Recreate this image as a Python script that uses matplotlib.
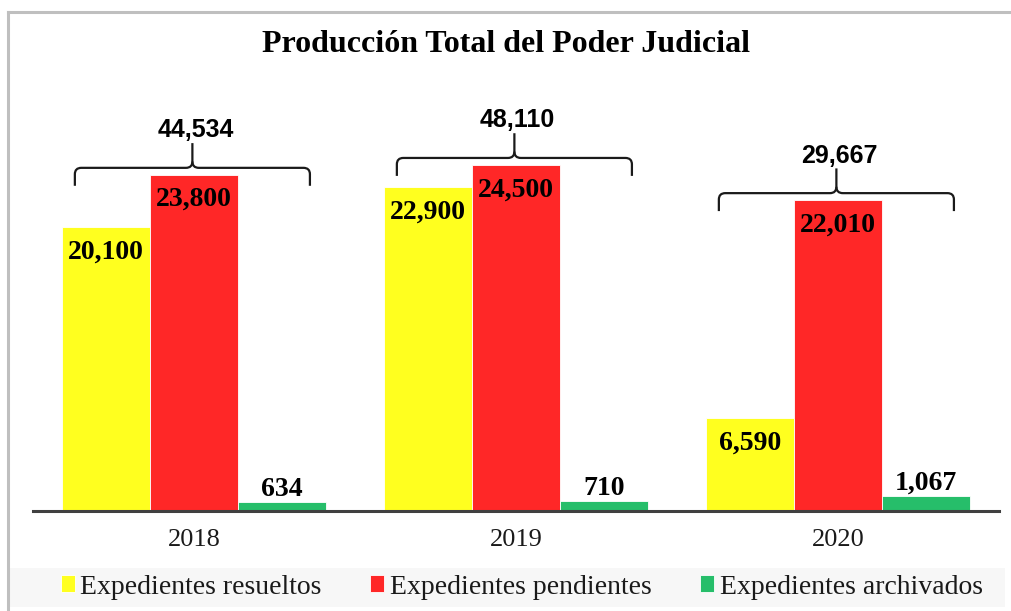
import matplotlib
matplotlib.use("Agg")
import matplotlib.pyplot as plt
from matplotlib.path import Path
from matplotlib.patches import PathPatch, Rectangle
import numpy as np

categories = ["2018", "2019", "2020"]
series_names = ["Expedientes resueltos", "Expedientes pendientes", "Expedientes archivados"]
resueltos = [20100, 22900, 6590]
pendientes = [23800, 24500, 22010]
archivados = [634, 710, 1067]
colors = ["#FFFF1F", "#FF2727", "#26BE6A"]
title = "Producción Total del Poder Judicial"

W, H = 1011, 611
fig = plt.figure(figsize=(W / 100, H / 100), dpi=100)
fig.patch.set_facecolor("white")

# outer border (top and left)
fig.add_artist(plt.Line2D([8 / W, 1.0], [1 - 12 / H, 1 - 12 / H], color="#BFBFBF", lw=2.2,
                          transform=fig.transFigure))
fig.add_artist(plt.Line2D([8 / W, 8 / W], [0, 1 - 12 / H], color="#BFBFBF", lw=2.2,
                          transform=fig.transFigure))
# legend background band
fig.add_artist(Rectangle((10 / W, 1 - 607 / H), (1005 - 10) / W, (607 - 568) / H,
                         facecolor="#F7F7F7", edgecolor="none", transform=fig.transFigure, zorder=0))

ax_left, ax_right, ax_bottom, ax_top = 33, 999, 511, 87
ax = fig.add_axes([ax_left / W, 1 - ax_bottom / H, (ax_right - ax_left) / W, (ax_bottom - ax_top) / H])
ax.set_xlim(-0.5, 2.5)
ax.set_ylim(0, 30000)
ax.patch.set_alpha(0)

x = np.arange(len(categories))
bw = 0.274
data = [resueltos, pendientes, archivados]
offsets = [-bw, 0, bw]
bars = []
for vals, off, col, name in zip(data, offsets, colors, series_names):
    b = ax.bar(x + off, vals, bw, color=col, edgecolor="white", linewidth=0.6, label=name, zorder=2)
    bars.append(b)

serif_bold = dict(family="Liberation Serif", weight="bold", size=20)
for i in range(2):
    for rect, v in zip(bars[i], data[i]):
        ax.annotate(f"{v:,}", (rect.get_x() + rect.get_width() / 2, rect.get_height()),
                    xytext=(0, -18), textcoords="offset points", ha="center", va="center",
                    color="black", zorder=3, **serif_bold)
for rect, v in zip(bars[2], data[2]):
    ax.annotate(f"{v:,}", (rect.get_x() + rect.get_width() / 2, rect.get_height()),
                xytext=(0, 0), textcoords="offset points", ha="center", va="bottom",
                color="black", zorder=3, **serif_bold)

# brackets with totals
half = 0.365
rx, ry = 0.02, 450
leg, peak = 1270, 1750
for i in range(len(categories)):
    total = resueltos[i] + pendientes[i] + archivados[i]
    top = max(resueltos[i], pendientes[i], archivados[i])
    yh = top + 480
    xc = x[i] - 0.005
    xl, xr = xc - half, xc + half
    verts = [(xl, yh - leg), (xl, yh - ry), (xl, yh), (xl + rx, yh), (xc - rx, yh),
             (xc, yh), (xc, yh + ry), (xc, yh + peak)]
    codes = [Path.MOVETO, Path.LINETO, Path.CURVE3, Path.CURVE3, Path.LINETO,
             Path.CURVE3, Path.CURVE3, Path.LINETO]
    verts2 = [(xr, yh - leg), (xr, yh - ry), (xr, yh), (xr - rx, yh), (xc + rx, yh),
              (xc, yh), (xc, yh + ry)]
    codes2 = [Path.MOVETO, Path.LINETO, Path.CURVE3, Path.CURVE3, Path.LINETO,
              Path.CURVE3, Path.CURVE3]
    for v, c in ((verts, codes), (verts2, codes2)):
        ax.add_patch(PathPatch(Path(v, c), facecolor="none", edgecolor="#1a1a1a", lw=1.6,
                               capstyle="butt", joinstyle="round", zorder=3, clip_on=False))
    ax.text(xc + 0.01, yh + peak + 60, f"{total:,}", ha="center", va="bottom",
            family="Liberation Sans", weight="bold", size=18, color="black", clip_on=False)

for s in ["top", "right", "left"]:
    ax.spines[s].set_visible(False)
ax.spines["bottom"].set_color("#404040")
ax.spines["bottom"].set_linewidth(2.2)
ax.set_yticks([])
ax.set_xticks(x)
ax.set_xticklabels(categories, family="Liberation Serif", size=19, color="#1a1a1a")
ax.tick_params(axis="x", length=0, pad=13)

fig.text(0.5, 1 - 45 / H, title, ha="center", va="center", family="Liberation Serif",
         weight="bold", size=23, color="black")

leg_ = fig.legend(loc="center", bbox_to_anchor=(0.516, 1 - 587 / H), ncol=3, frameon=False,
                  prop=dict(family="Liberation Serif", size=20), handlelength=0.5, handleheight=0.55,
                  handletextpad=0.2, columnspacing=1.75)
for t in leg_.get_texts():
    t.set_color("#1a1a1a")

fig.savefig("out.png", dpi=100)
